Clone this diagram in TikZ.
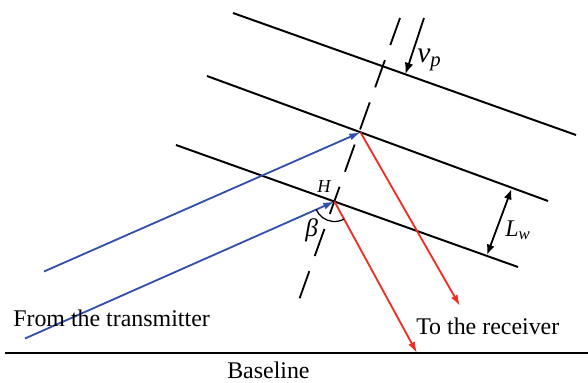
\documentclass[tikz,border=0pt]{standalone}
\usepackage{fontspec}
\setmainfont{Liberation Serif}
\usepackage{tikz}
\usetikzlibrary{arrows.meta,angles}
\definecolor{raybleu}{RGB}{50,80,170}
\definecolor{rayrouge}{RGB}{240,45,35}
\tikzset{
  wavefront/.style={line width=1.4pt, black},
  normline/.style={line width=1.3pt, black, dash pattern=on 0.72cm off 0.40cm},
  incray/.style={-{Latex[length=2.8mm,width=1.8mm]}, line width=1.3pt, raybleu},
  refray/.style={-{Latex[length=2.8mm,width=1.8mm]}, line width=1.3pt, rayrouge},
  vparrow/.style={-{Latex[length=2.8mm,width=2.2mm]}, line width=1.3pt, black},
  lwarrow/.style={{Latex[length=2.6mm,width=2mm]}-{Latex[length=2.6mm,width=2mm]}, line width=1.3pt, black},
  txtlabel/.style={inner sep=0pt, anchor=base west, font=\fontsize{17}{20}\selectfont},
  symlabel/.style={inner sep=0pt, anchor=base west, font=\fontsize{16}{19}\selectfont\itshape}
}
\begin{document}
\begin{tikzpicture}[x=0.025cm, y=-0.025cm]
  \useasboundingbox (0,0) rectangle (588,383);

  % Wave fronts
  \coordinate (w1a) at (233,13);  \coordinate (w1b) at (576,135);
  \coordinate (w2a) at (207,76);  \coordinate (w2b) at (548,201);
  \coordinate (w3a) at (176,145); \coordinate (w3b) at (518,267);
  \draw[wavefront] (w1a) -- (w1b);
  \draw[wavefront] (w2a) -- (w2b);
  \draw[wavefront] (w3a) -- (w3b);

  % Normal through the scattering points
  \coordinate (ntop) at (400,18);
  \coordinate (nbot) at (299,300);
  \draw[normline] (ntop) -- (nbot);

  % Scattering points
  \coordinate (P) at (360.5,132.3);
  \coordinate (H) at (334.5,201.5);

  % Rays
  \coordinate (txa) at (44,271.5);
  \coordinate (txb) at (25,338.5);
  \coordinate (rxa) at (460,306);
  \coordinate (rxb) at (417,353);
  \draw[incray] (txa) -- (P);
  \draw[incray] (txb) -- (H);
  \draw[refray] (P) -- (rxa);
  \draw[refray] (H) -- (rxb);

  % Angle at H
  \pic[draw, line width=0.9pt, angle radius=0.5cm] {angle = txb--H--rxb};

  % Phase velocity and wavelength
  \coordinate (vpa) at (424,18);
  \coordinate (vpb) at (405.5,74);
  \draw[vparrow] (vpa) -- (vpb);
  \coordinate (lwa) at (511.5,189);
  \coordinate (lwb) at (487,255);
  \draw[lwarrow] (lwa) -- (lwb);

  % Baseline
  \coordinate (bla) at (5,353);
  \coordinate (blb) at (588,353);
  \draw[line width=1.5pt] (bla) -- (blb);

  % Labels
  \node[symlabel, font=\fontsize{21}{24}\selectfont\itshape] (vp) at (417,62) {v\textsubscript{p}};
  \node[symlabel, font=\fontsize{17}{20}\selectfont\itshape] (lw) at (505,236) {L\textsubscript{w}};
  \node[symlabel, font=\fontsize{13}{15}\selectfont\itshape] (hl) at (317,192) {H};
  \node[symlabel, font=\fontsize{18}{21}\selectfont\itshape] (bt) at (305,236) {β};
  \node[txtlabel] (tx) at (13,326) {From the transmitter};
  \node[txtlabel] (rx) at (416,334) {To the receiver};
  \node[txtlabel] (bl) at (227,378) {Baseline};
\end{tikzpicture}
\end{document}
